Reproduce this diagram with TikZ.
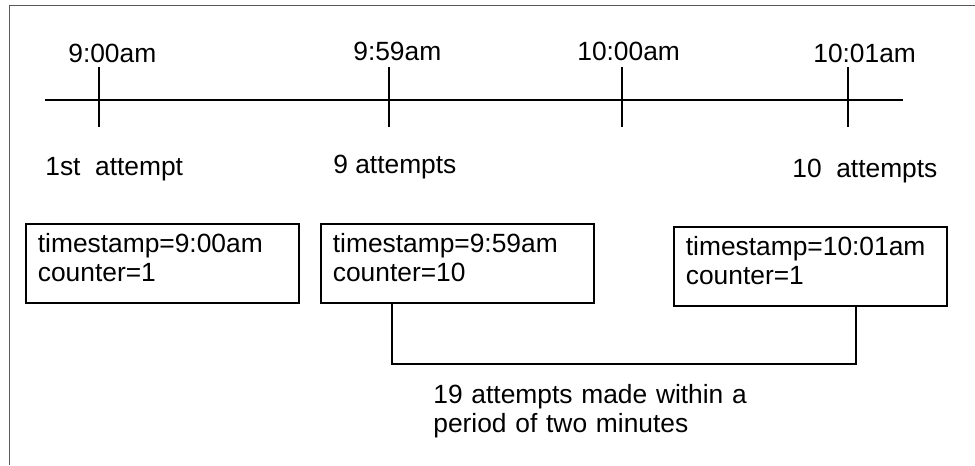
\documentclass[tikz,border=0pt]{standalone}
\usepackage{fontspec}
\setmainfont{Liberation Sans}
\tikzset{
  axisline/.style={line width=0.35mm},
  timelabel/.style={anchor=base west, inner sep=0pt},
  stampbox/.style={draw, line width=0.35mm, anchor=north west, align=left,
    text width=49.8mm, inner xsep=2.4mm, inner ysep=0pt,
    text height=5.8mm, text depth=10mm},
}

\begin{document}
\begin{tikzpicture}[x=0.2mm, y=-0.2mm, font=\fontsize{15}{16.3}\selectfont]
  \useasboundingbox (0,0) rectangle (975,465);
  % outer frame
  \draw[gray!70!black, line width=0.2mm] (9,465) -- (9,5) -- (975,5);

  % time axis with ticks
  \coordinate (axisL) at (45,100);
  \coordinate (axisR) at (903,100);
  \draw[axisline] (axisL) -- (axisR);
  \foreach \x in {99,389,622,848}
    \draw[axisline] (\x,67) -- (\x,127);

  \node[timelabel] (t900) at (68,62) {9:00am};
  \node[timelabel] (t959) at (353,60) {9:59am};
  \node[timelabel] (t1000) at (577,60) {10:00am};
  \node[timelabel] (t1001) at (813,62) {10:01am};

  \node[timelabel] (a1) at (45,175) {1st\ \ attempt};
  \node[timelabel] (a9) at (333,173) {9 attempts};
  \node[timelabel] (a10) at (792,177) {10\ \ attempts};

  % stored records
  \node[stampbox] (b1) at (25,223) {timestamp=9:00am\\counter=1};
  \node[stampbox] (b2) at (320,223) {timestamp=9:59am\\counter=10};
  \node[stampbox] (b3) at (673,226) {timestamp=10:01am\\counter=1};

  \draw[axisline] ([xshift=14.4mm]b2.south west) -- ++(0,60) -| ([xshift=36.6mm]b3.south west);

  \node[timelabel, text width=70mm, align=left, font=\fontsize{15}{16.6}\selectfont] (note) at (433,403)
    {19 attempts made within a\\period of two minutes};
\end{tikzpicture}
\end{document}
